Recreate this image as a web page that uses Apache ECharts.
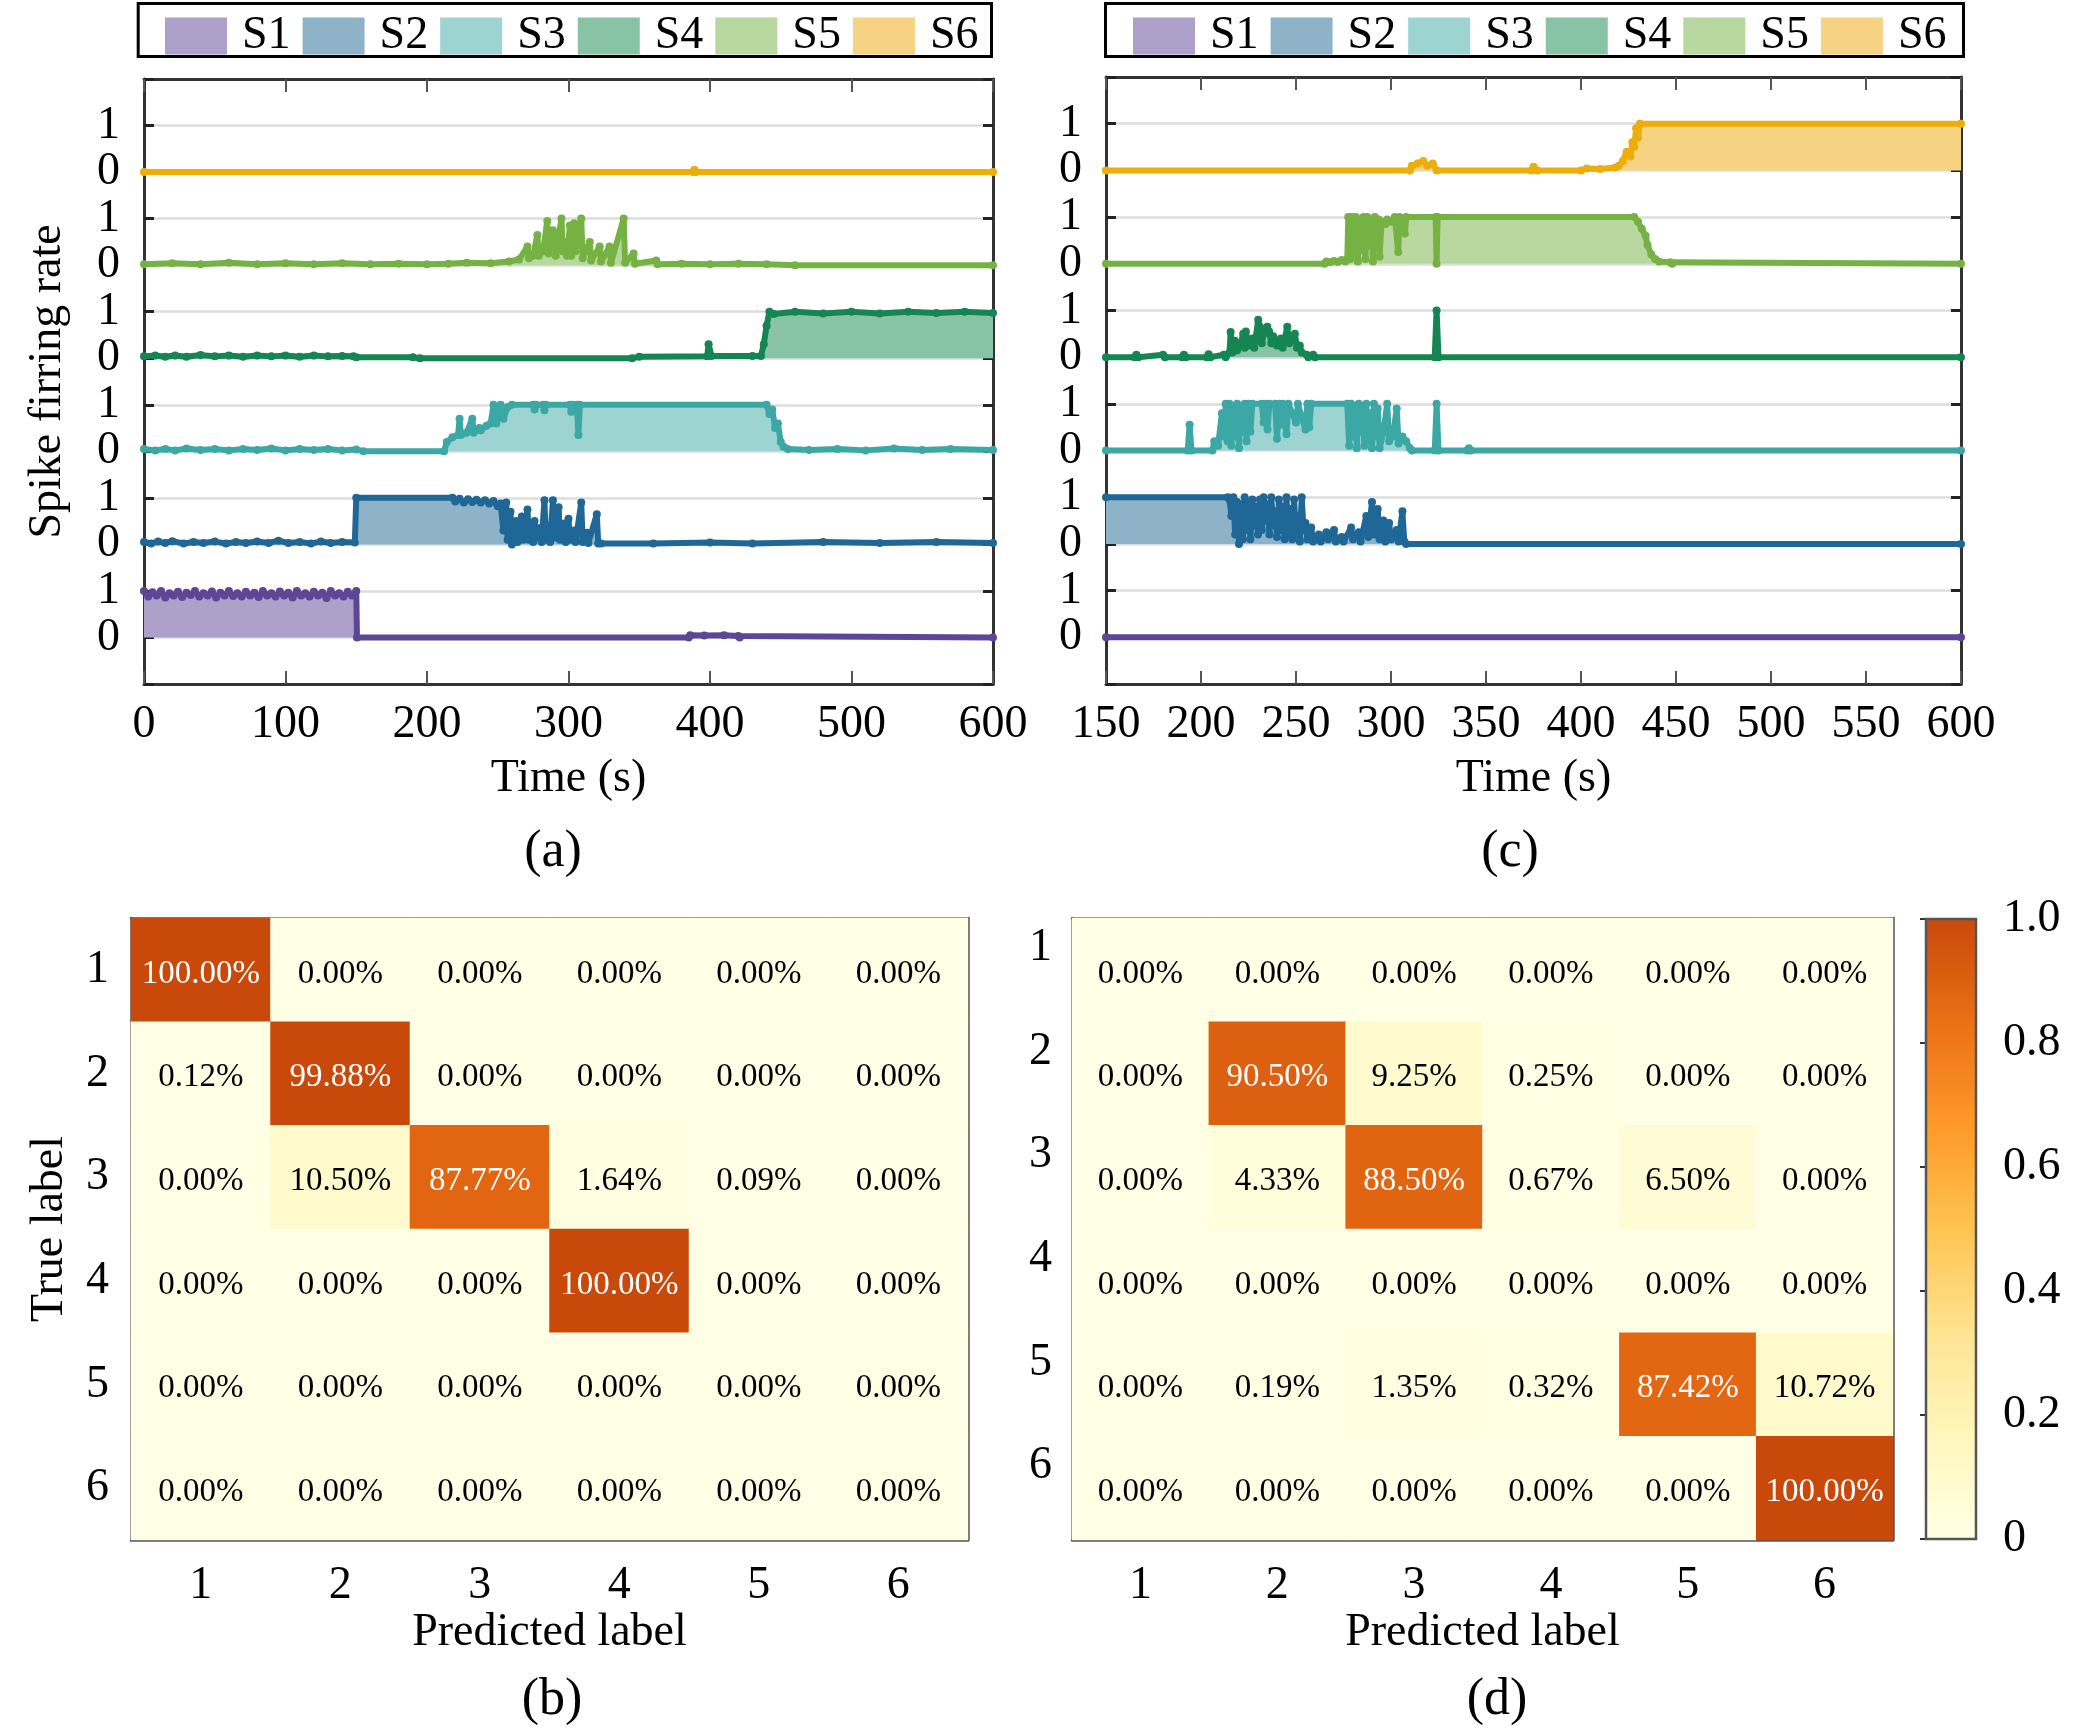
<!DOCTYPE html>
<html>
<head>
<meta charset="utf-8">
<title>Spike firing rate and confusion matrices</title>
<script src="https://cdn.jsdelivr.net/npm/echarts/dist/echarts.min.js"></script>
<style>
  html, body { margin: 0; padding: 0; background: #fff; }
  #chart { width: 2079px; height: 1734px; }
</style>
</head>
<body>
<div id="chart"></div>
<script>
// panel (a): [time (s), firing rate] for each state S1..S6
var aS1 = [[0,1.0],[3,0.88],[6,0.97],[9,0.9],[12,1.0],[15,0.86],[18,0.95],[21,0.9],[24,0.98],[27,0.87],[30,0.96],[33,0.91],[36,1.0],[39,0.88],[42,0.95],[45,0.9],[48,0.99],[51,0.86],[54,0.96],[57,0.9],[60,1.0],[63,0.89],[66,0.95],[69,0.88],[72,0.98],[75,0.9],[78,0.96],[81,0.87],[84,1.0],[87,0.9],[90,0.95],[93,0.88],[96,0.99],[99,0.9],[102,0.96],[105,0.86],[108,1.0],[111,0.9],[114,0.95],[117,0.88],[120,0.98],[123,0.9],[126,0.96],[129,0.85],[132,1.0],[135,0.9],[138,0.95],[141,0.88],[144,0.98],[147,0.9],[150,1.0],[150.5,0],[385,0],[386,0.05],[396,0.04],[410,0.05],[420,0.03],[421,0],[600,0]];
var aS2 = [[0,0.05],[5,0.02],[10,0.06],[15,0.03],[20,0.07],[28,0.02],[35,0.05],[42,0.03],[50,0.06],[58,0.02],[65,0.05],[72,0.03],[80,0.06],[88,0.03],[95,0.08],[102,0.03],[110,0.05],[118,0.02],[125,0.06],[132,0.03],[140,0.05],[149,0.04],[150,1.0],[218,1.0],[220,0.92],[223,0.98],[226,0.9],[229,0.97],[232,0.91],[235,0.96],[238,0.9],[241,0.95],[244,0.88],[247,0.93],[250,0.82],[252,0.88],[254,0.3],[256,0.9],[257,0.1],[259,0.7],[260,0],[263,0.5],[264,0.05],[267,0.6],[268,0.1],[271,0.75],[272,0.1],[274,0.4],[275,0.05],[276,0.5],[277,0.15],[280,0.35],[281,0.05],[283,0.95],[284,0.1],[286,0.4],[287,0.05],[289,0.95],[290,0.15],[293,0.8],[294,0.1],[297,0.45],[298,0.05],[300,0.55],[301,0.1],[304,0.3],[305,0.05],[309,0.9],[310,0.05],[313,0.25],[314,0.03],[320,0.65],[321,0.02],[323,0.02],[360,0.02],[400,0.04],[430,0.02],[480,0.05],[520,0.03],[560,0.05],[600,0.03]];
var aS3 = [[0,0.05],[8,0.02],[15,0.05],[22,0.02],[30,0.06],[40,0.03],[50,0.05],[60,0.02],[70,0.05],[80,0.03],[90,0.06],[100,0.02],[110,0.05],[120,0.03],[130,0.05],[140,0.02],[150,0.04],[155,0],[212,0],[214,0.2],[218,0.3],[222,0.35],[223,0.7],[224,0.35],[228,0.4],[232,0.7],[233,0.4],[237,0.5],[238,0.45],[242,0.55],[245,0.6],[247,1.0],[249,0.6],[252,1.0],[254,0.7],[257,0.95],[260,1.0],[275,1.0],[276,0.9],[277,1.0],[282,1.0],[283,0.88],[284,1.0],[301,1.0],[302,0.85],[303,1.0],[306,1.0],[307,0.35],[308,1.0],[440,1.0],[442,0.8],[444,0.9],[446,0.5],[448,0.6],[450,0.2],[452,0.1],[455,0.05],[470,0.03],[490,0.05],[510,0.02],[530,0.06],[550,0.03],[570,0.05],[600,0.03]];
var aS4 = [[0,0.04],[8,0.06],[15,0.03],[22,0.06],[30,0.03],[40,0.07],[50,0.04],[60,0.06],[70,0.03],[80,0.06],[90,0.04],[100,0.06],[110,0.03],[120,0.06],[130,0.04],[140,0.05],[148,0.04],[150,0.02],[190,0.02],[195,0],[345,0],[350,0.03],[398,0.04],[399,0.3],[401,0.05],[430,0.05],[436,0.05],[438,0.3],[440,0.7],[442,1.0],[445,0.95],[460,1.0],[480,0.96],[500,1.0],[520,0.96],[540,1.0],[560,0.97],[580,1.0],[600,0.97]];
var aS5 = [[0,0.02],[20,0.04],[40,0.02],[60,0.05],[80,0.02],[100,0.04],[120,0.02],[140,0.04],[160,0.02],[180,0.03],[200,0.02],[215,0.03],[228,0.05],[245,0.04],[258,0.08],[265,0.12],[271,0.4],[272,0.15],[275,0.2],[278,0.65],[279,0.2],[282,0.3],[285,0.95],[286,0.25],[289,0.75],[290,0.55],[291,0.2],[295,1.0],[296,0.3],[298,0.5],[299,0.2],[301,0.85],[302,0.2],[304,0.9],[305,0.3],[309,1.0],[310,0.15],[312,0.3],[315,0.5],[316,0.1],[322,0.4],[323,0.08],[329,0.4],[330,0.05],[339,1.0],[340,0.05],[346,0.25],[347,0.03],[362,0.1],[363,0.02],[380,0.03],[400,0.02],[420,0.03],[440,0.02],[460,0],[600,0]];
var aS6 = [[0,0],[388,0],[389,0.05],[390,0],[600,0]];

// panel (c)
var cS1 = [[150,0],[600,0]];
var cS2 = [[150,1.0],[214,1.0],[215,0.95],[216,0.6],[217,1.0],[218,0.2],[219,0.9],[220,0],[221,0.85],[222,0.1],[223,1.0],[224,0.3],[225,0.9],[226,0.1],[227,0.95],[228,0.4],[229,0.8],[230,0.2],[231,0.95],[232,0.3],[233,1.0],[234,0.5],[235,0.85],[236,0.2],[237,1.0],[238,0.4],[239,0.7],[240,0.15],[241,0.95],[242,0.3],[243,0.8],[244,0.1],[245,1.0],[246,0.2],[247,0.75],[248,0.1],[249,0.95],[250,0.2],[251,0.6],[252,0.05],[253,1.0],[254,0.3],[255,0.45],[256,0.1],[258,0.35],[259,0.05],[262,0.2],[263,0.05],[266,0.25],[267,0.1],[270,0.3],[271,0.05],[274,0.15],[275,0.05],[279,0.35],[280,0.1],[283,0.25],[284,0.05],[287,0.6],[288,0.15],[290,0.9],[291,0.2],[293,0.75],[294,0.1],[296,0.5],[297,0.05],[299,0.45],[300,0.1],[303,0.3],[304,0.05],[306,0.7],[307,0.05],[308,0],[600,0]];
var cS3 = [[150,0],[193,0],[194,0.55],[195,0],[206,0],[207,0.2],[209,0.1],[211,0.8],[212,0.3],[213,1.0],[214,0.2],[215,1.0],[216,0.1],[217,0.95],[218,0.3],[219,1.0],[220,0.05],[221,0.9],[222,0.4],[223,1.0],[224,0.2],[225,1.0],[226,0.4],[227,1.0],[232,1.0],[233,0.6],[234,1.0],[235,0.45],[236,1.0],[239,1.0],[240,0.25],[241,1.0],[242,0.55],[243,1.0],[245,0.35],[246,1.0],[250,0.6],[251,1.0],[255,0.45],[256,1.0],[257,0.5],[258,1.0],[277,1.0],[278,0.1],[279,1.0],[280,0.3],[281,0.9],[282,0.05],[283,1.0],[284,0.4],[285,0.95],[286,0.1],[287,1.0],[288,0.2],[289,0.8],[290,0.05],[291,1.0],[292,0.3],[293,0.9],[294,0.05],[296,0.4],[298,1.0],[299,0.2],[301,0.3],[303,0.9],[304,0.15],[306,0.3],[308,0.2],[310,0.05],[311,0],[323,0],[324,1.0],[325,0],[340,0],[341,0.05],[342,0],[600,0]];
var cS4 = [[150,0],[165,0],[166,0.05],[167,0],[180,0.05],[181,0],[190,0],[191,0.05],[192,0],[203,0],[204,0.06],[205,0],[212,0.05],[213,0],[215,0.1],[215.6,0.54],[216.5,0.1],[217.8,0.35],[219,0.15],[221,0.3],[222.2,0.5],[223,0.2],[223.6,0.55],[225,0.25],[227,0.4],[228,0.2],[230.1,0.8],[231,0.65],[232,0.3],[233,0.5],[234.9,0.65],[235.9,0.55],[237,0.3],[238,0.45],[240,0.25],[242,0.4],[243,0.2],[245.4,0.65],[246.5,0.3],[248,0.4],[249.4,0.5],[250.5,0.2],[252,0.25],[253,0.1],[255.6,0.05],[256.5,0],[259,0.05],[260,0],[323,0],[324,1.0],[325,0],[600,0]];
var cS5 = [[150,0],[265,0],[266,0.05],[268,0.03],[270,0.06],[272,0.04],[274,0.08],[276,0.05],[277,0.1],[277.5,1.0],[278.5,0.1],[279.5,1.0],[280.5,0.2],[281.5,1.0],[282.5,0.05],[283.5,0.95],[284.5,0.3],[285.5,1.0],[286.5,0.1],[287.5,1.0],[288.5,0.4],[289.5,0.9],[290.5,0.05],[291.5,1.0],[292.5,0.5],[293.5,0.95],[294,0.15],[295,0.9],[297,0.85],[298,0.95],[300,0.9],[302,1.0],[303.8,0.25],[304.5,1.0],[306,0.85],[307.3,0.65],[308,1.0],[323.5,1.0],[324,0],[324.5,1.0],[428,1.0],[430,0.9],[432,0.75],[434,0.6],[435,0.4],[437,0.2],[439,0.1],[441,0.05],[447,0.03],[448,0],[600,0]];
var cS6 = [[150,0],[310,0],[311,0.1],[314,0.15],[317,0.2],[319,0.1],[322,0.15],[324,0],[374,0],[375,0.08],[377,0],[400,0],[403,0.04],[410,0.03],[418,0.06],[420,0.1],[422,0.2],[424,0.4],[426,0.3],[427,0.6],[428,0.5],[429,0.9],[430,0.7],[431,1.0],[600,1.0]];

// confusion matrices (%), rows = true label, cols = predicted label
var cmLabels = ['1', '2', '3', '4', '5', '6'];
var cmB = [
  [100.00, 0.00, 0.00, 0.00, 0.00, 0.00],
  [0.12, 99.88, 0.00, 0.00, 0.00, 0.00],
  [0.00, 10.50, 87.77, 1.64, 0.09, 0.00],
  [0.00, 0.00, 0.00, 100.00, 0.00, 0.00],
  [0.00, 0.00, 0.00, 0.00, 0.00, 0.00],
  [0.00, 0.00, 0.00, 0.00, 0.00, 0.00]
];
var cmD = [
  [0.00, 0.00, 0.00, 0.00, 0.00, 0.00],
  [0.00, 90.50, 9.25, 0.25, 0.00, 0.00],
  [0.00, 4.33, 88.50, 0.67, 6.50, 0.00],
  [0.00, 0.00, 0.00, 0.00, 0.00, 0.00],
  [0.00, 0.19, 1.35, 0.32, 87.42, 10.72],
  [0.00, 0.00, 0.00, 0.00, 0.00, 100.00]
];

var names = ['S1', 'S2', 'S3', 'S4', 'S5', 'S6'];
var lineColors = ['#5D4696', '#1E6797', '#3BA8A6', '#158651', '#76B243', '#EBAE0B'];
var fillColors = ['#ADA1C9', '#8EB3C9', '#9DD4D1', '#88C3A6', '#B8D8A0', '#F5D383'];
var heatColors = ['#FFFFE5', '#FFF7BC', '#FEE391', '#FEC44F', '#FE9929', '#EC7014', '#C8490A'];
var FONT = 'Liberation Serif';
var FS = 46;

var chart = echarts.init(document.getElementById('chart'));

function spikeSeries(arr, k, axisIdx) {
  var off = 2 * k;
  return {
    name: names[k],
    type: 'line',
    xAxisIndex: axisIdx,
    yAxisIndex: axisIdx,
    data: arr.map(function (p) { return [p[0], p[1] + off]; }),
    showSymbol: true,
    showAllSymbol: true,
    symbol: 'circle',
    symbolSize: 8,
    itemStyle: { color: lineColors[k] },
    lineStyle: { color: lineColors[k], width: 6 },
    areaStyle: { color: fillColors[k], opacity: 1, origin: off },
    emphasis: { disabled: true },
    silent: true
  };
}

function cmData(mat) {
  var out = [];
  mat.forEach(function (row, r) {
    row.forEach(function (v, c) {
      out.push({ value: [c, r, v], label: { color: v > 50 ? '#fff' : '#000' } });
    });
  });
  return out;
}

var txt = { fontFamily: FONT, fontSize: FS, color: '#000' };

function spikeY(gridIdx, right) {
  return {
    gridIndex: gridIdx,
    type: 'value',
    position: right ? 'right' : 'left',
    min: -1, max: 12, interval: 1,
    axisLine: { show: true, onZero: false, lineStyle: { color: '#333', width: 3 } },
    axisTick: { show: true, inside: true, length: 10, lineStyle: { color: '#222', width: 3 } },
    axisLabel: {
      show: !right, margin: 24, fontFamily: FONT, fontSize: FS, color: '#000',
      formatter: function (v) {
        if (v < 0 || v > 11) return '';
        return v % 2 === 0 ? '0' : '1';
      }
    },
    splitLine: { show: !right, lineStyle: { color: '#dddddd', width: 2.5 } }
  };
}

function spikeX(gridIdx, min, max, step, top) {
  return {
    gridIndex: gridIdx,
    type: 'value',
    position: top ? 'top' : 'bottom',
    min: min, max: max, interval: step,
    axisLine: { show: true, onZero: false, lineStyle: { color: '#333', width: 3 } },
    axisTick: { show: true, inside: true, length: 13, lineStyle: { color: '#555', width: 2 } },
    axisLabel: { show: !top, margin: 18, fontFamily: FONT, fontSize: FS, color: '#000' },
    splitLine: { show: false },
    name: top ? '' : 'Time (s)',
    nameLocation: 'middle',
    nameGap: 72,
    nameTextStyle: txt
  };
}

function cmX(gridIdx, top) {
  return {
    gridIndex: gridIdx,
    type: 'category',
    data: cmLabels,
    position: top ? 'top' : 'bottom',
    axisLine: { show: true, onZero: false, lineStyle: { color: '#555', width: 2.5 } },
    axisTick: { show: true, inside: true, alignWithLabel: true, length: 10, lineStyle: { color: '#444', width: 2 } },
    axisLabel: { show: !top, margin: 23, fontFamily: FONT, fontSize: FS, color: '#000' },
    splitLine: { show: false },
    name: top ? '' : 'Predicted label',
    nameLocation: 'middle',
    nameGap: 63,
    nameTextStyle: txt
  };
}

function cmY(gridIdx, right, labelOpt, title) {
  var lab = Object.assign({ show: !right, fontFamily: FONT, fontSize: FS, color: '#000' }, labelOpt || {});
  return {
    gridIndex: gridIdx,
    type: 'category',
    data: cmLabels,
    inverse: true,
    position: right ? 'right' : 'left',
    axisLine: { show: true, onZero: false, lineStyle: { color: '#555', width: 2.5 } },
    axisTick: { show: true, inside: true, alignWithLabel: true, length: 10, lineStyle: { color: '#444', width: 2 } },
    axisLabel: lab,
    splitLine: { show: false },
    name: title || '',
    nameLocation: 'middle',
    nameGap: 58,
    nameRotate: 90,
    nameTextStyle: txt
  };
}

var series = [];
[aS1, aS2, aS3, aS4, aS5, aS6].forEach(function (arr, k) { series.push(spikeSeries(arr, k, 0)); });
[cS1, cS2, cS3, cS4, cS5, cS6].forEach(function (arr, k) { series.push(spikeSeries(arr, k, 2)); });

var heatLabel = {
  show: true, fontFamily: FONT, fontSize: 33, offset: [0, 4],
  formatter: function (p) { return p.value[2].toFixed(2) + '%'; }
};
series.push({
  type: 'heatmap', xAxisIndex: 4, yAxisIndex: 4, data: cmData(cmB),
  label: heatLabel, emphasis: { disabled: true }, silent: true
});
series.push({
  type: 'heatmap', xAxisIndex: 6, yAxisIndex: 6, data: cmData(cmD),
  label: heatLabel, emphasis: { disabled: true }, silent: true
});

var legendData = names.map(function (n, k) {
  return { name: n, itemStyle: { color: fillColors[k], borderWidth: 0 } };
});
function legendAt(left) {
  return {
    left: left, top: 13, padding: 0,
    orient: 'horizontal',
    icon: 'rect',
    itemWidth: 62, itemHeight: 37, itemGap: 12,
    selectedMode: false,
    textStyle: { fontFamily: FONT, fontSize: FS, color: '#000', lineHeight: 37, padding: [0, 0, 0, 10] },
    data: legendData
  };
}

function caption(t, x, y) {
  return {
    type: 'text', x: x, y: y, silent: true,
    style: {
      text: t, fill: '#000', font: '52px "Liberation Serif"',
      align: 'center', verticalAlign: 'middle', textAlign: 'center', textVerticalAlign: 'middle'
    }
  };
}

var option = {
  backgroundColor: '#fff',
  animation: false,
  legend: [legendAt(165), legendAt(1133)],
  grid: [
    { left: 144, top: 79, width: 849, height: 605, outerBoundsMode: 'none' },
    { left: 1106, top: 77, width: 855, height: 607, outerBoundsMode: 'none' },
    { left: 131, top: 918, width: 837, height: 622, outerBoundsMode: 'none' },
    { left: 1072, top: 918, width: 821, height: 622, outerBoundsMode: 'none' },
    { left: 1926, top: 919, width: 50, height: 620, outerBoundsMode: 'none' }
  ],
  xAxis: [
    spikeX(0, 0, 600, 100, false),
    spikeX(0, 0, 600, 100, true),
    spikeX(1, 150, 600, 50, false),
    spikeX(1, 150, 600, 50, true),
    cmX(2, false),
    cmX(2, true),
    cmX(3, false),
    cmX(3, true),
    { gridIndex: 4, type: 'value', min: 0, max: 1, show: false }
  ],
  yAxis: [
    Object.assign(spikeY(0, false), {
      name: 'Spike firring rate', nameLocation: 'middle', nameGap: 73, nameRotate: 90, nameTextStyle: txt
    }),
    spikeY(0, true),
    spikeY(1, false),
    spikeY(1, true),
    cmY(2, false, { margin: 22 }, 'True label'),
    cmY(2, true),
    cmY(3, false, { margin: 20, verticalAlign: 'bottom', lineHeight: 44 }),
    cmY(3, true),
    {
      gridIndex: 4, type: 'value', position: 'right', min: 0, max: 1, interval: 0.2,
      axisLine: { show: false },
      axisTick: { show: true, inside: true, length: 6, lineStyle: { color: '#333', width: 2 } },
      axisLabel: {
        margin: 27, fontFamily: FONT, fontSize: FS, color: '#000',
        formatter: function (v) { return v === 0 ? '0' : v.toFixed(1); }
      },
      splitLine: { show: false }
    }
  ],
  visualMap: {
    type: 'continuous',
    min: 0, max: 100,
    seriesIndex: [12, 13],
    orient: 'vertical',
    left: 1926, top: 919,
    itemWidth: 50, itemHeight: 620,
    padding: 0,
    calculable: false,
    hoverLink: false,
    inRange: { color: heatColors }
  },
  graphic: [
    { type: 'rect', shape: { x: 138.2, y: 3.5, width: 853.3, height: 53 }, style: { fill: 'none', stroke: '#000', lineWidth: 3 }, silent: true },
    { type: 'rect', shape: { x: 1105.5, y: 3.5, width: 858, height: 53 }, style: { fill: 'none', stroke: '#000', lineWidth: 3 }, silent: true },
    { type: 'rect', shape: { x: 1926, y: 919, width: 50, height: 620 }, style: { fill: 'none', stroke: '#555', lineWidth: 2.5 }, z: 100, silent: true },
    caption('(a)', 553, 852),
    caption('(c)', 1510, 852),
    caption('(b)', 552, 1700),
    caption('(d)', 1497, 1700)
  ],
  series: series
};

chart.setOption(option);
</script>
</body>
</html>
